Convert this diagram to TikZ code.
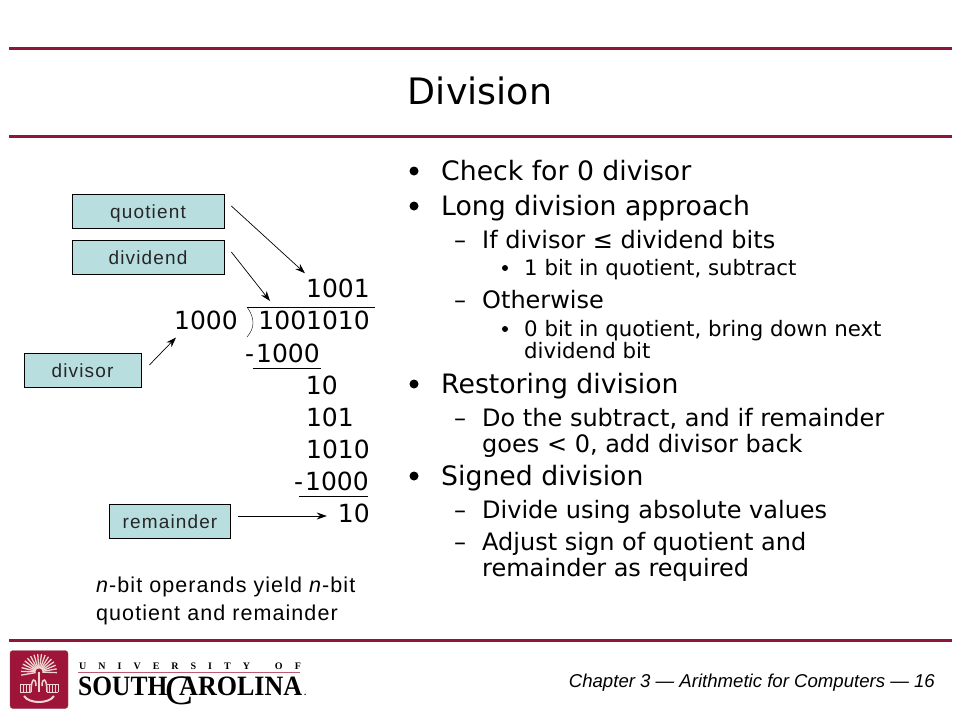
\documentclass[tikz,border=0pt]{standalone}
\usepackage{fontspec}
\setmainfont{DejaVu Sans}
\newfontfamily\arialfont{Liberation Sans}
\newfontfamily\boxfont[LetterSpace=6]{Liberation Sans}
\newfontfamily\notefont[LetterSpace=5]{Liberation Sans}
\newfontfamily\serifont{Liberation Serif}
\usetikzlibrary{arrows.meta,positioning,calc}

\definecolor{garnet}{HTML}{8F1539}
\definecolor{crestred}{HTML}{9E1539}
\definecolor{crestpale}{HTML}{F0D5D0}
\definecolor{boxfill}{HTML}{B9DEE0}

\tikzset{
  labelbox/.style={draw, fill=boxfill, line width=0.7pt, inner sep=0pt, text height=16pt, text depth=1pt, font=\boxfont\fontsize{19}{19}\selectfont, text=black!85},
  bitrow/.style={anchor=base east, inner sep=0pt, font=\fontsize{25}{25}\selectfont},
  itemone/.style={anchor=base west, inner sep=0pt, font=\fontsize{26.7}{26.7}\selectfont},
  itemtwo/.style={anchor=base west, inner sep=0pt, font=\fontsize{24}{24}\selectfont},
  itemthree/.style={anchor=base west, inner sep=0pt, font=\fontsize{21.3}{21.3}\selectfont},
  noteline/.style={anchor=base west, inner sep=0pt, font=\notefont\fontsize{21.5}{21.5}\selectfont},
  slideline/.style={color=garnet, line width=3pt},
  pointer/.style={-{Stealth[length=10pt,width=7pt]}, line width=0.7pt}
}

\begin{document}
\begin{tikzpicture}[x=1pt,y=-1pt]
  \useasboundingbox (0,0) rectangle (960,720);

  \foreach \i in {48,136,640}{
    \draw[slideline] (9,\i) -- (952,\i);
  }
  \node[inner sep=0pt, anchor=base, font=\fontsize{36.4}{36.4}\selectfont] (title) at (480,104) {Division};

  % boxes
  \node[labelbox, minimum width=152pt, minimum height=34pt] (quotient) at (148,211) {quotient};
  \node[labelbox, minimum width=152pt, minimum height=34pt] (dividend) at (148,257) {dividend};
  \node[labelbox, minimum width=117pt, minimum height=34pt] (divisor) at (82.5,370) {divisor};
  \node[labelbox, minimum width=121pt, minimum height=34pt] (remainder) at (170,521) {remainder};

  % long division
  \foreach \n/\y/\x/\t in {quot/297/370/1001, dvd/329/370/1001010, dvr/329/238/1000, suba/362/320/-\kern2pt 1000, reca/394/338/10, recb/426/354/101, recc/458/370/1010, subb/490/369/-\kern2pt 1000, rem/522/370/10}{
    \node[bitrow] (\n) at (\x,\y) {\t};
  }
  \draw (247,307) -- (375,307);
  \draw (247,307) .. controls (255,318) and (255,328) .. (247,337);
  \draw (253,368) -- (321,368);
  \draw (299,496) -- (368,496);

  % arrows
  \coordinate (qa) at ($ (quotient.east)+(7,-5) $);
  \coordinate (qb) at ($ (quot.north west)+(-1,-5) $);
  \coordinate (da) at ($ (dividend.east)+(7,-5) $);
  \coordinate (db) at (270,301);
  \coordinate (va) at ($ (divisor.east)+(8,-5) $);
  \coordinate (vb) at ($ (dvr.south west)+(2,8) $);
  \coordinate (ra) at ($ (remainder.east)+(7,-5) $);
  \coordinate (rb) at ($ (rem.base west)+(-11,-6) $);
  \foreach \i/\j in {qa/qb,da/db,va/vb,ra/rb}{
    \draw[pointer] (\i) -- (\j);
  }

  \node[noteline] (note1) at (96,592) {\textit{n}-bit operands yield \textit{n}-bit};
  \node[noteline] (note2) at (96,620) {quotient and remainder};

  % bullets
  \foreach \n/\y/\t in {a/180/Check for 0 divisor, b/215/Long division approach, c/393/Restoring division, d/485/Signed division}{
    \node[itemone] (one\n) at (441,\y) {\t};
    \fill (414,\y-9) circle (4.5pt);
  }
  \foreach \n/\y/\t in {a/248/If divisor ≤ dividend bits, b/308/Otherwise, c/426/{Do the subtract, and if remainder}, d/452/{goes < 0, add divisor back}, e/518/Divide using absolute values, f/550/Adjust sign of quotient and, g/576/remainder as required}{
    \node[itemtwo] (two\n) at (482,\y) {\t};
  }
  \foreach \y in {248,308,426,518,550}{
    \node[itemtwo, anchor=base] (dash\y) at (460,\y) {–};
  }
  \foreach \n/\y/\t in {a/275/{1 bit in quotient, subtract}, b/336/{0 bit in quotient, bring down next}, c/358/dividend bit}{
    \node[itemthree] (three\n) at (524,\y) {\t};
  }
  \foreach \y in {268,329}{
    \fill (505,\y) circle (3pt);
  }

  % footer
  \node[inner sep=0pt, anchor=base east, font=\arialfont\itshape\fontsize{18.6}{18.6}\selectfont] (footer) at (935,687) {Chapter 3 — Arithmetic for Computers — 16};

  % logo
  \node[fill=crestred, draw=crestred!60!gray, rounded corners=3pt, minimum size=58pt, inner sep=0pt] (crest) at (39,679.5) {};
  \foreach \a in {-190,-178,...,10}{
    \draw[crestpale, line width=1.3pt] (39,672) -- ++(\a:18);
  }
  \fill[crestred] (39,672) circle (3.5pt);
  \draw[crestpale, line width=2.5pt] (39,672) -- (39,692);
  \draw[crestpale, line width=1pt] (20,684) -- (31,684) (47,684) -- (58,684) (20,692) -- (31,692) (47,692) -- (58,692);
  \foreach \i in {20,23,26,29,49,52,55,58}{
    \draw[crestpale, line width=1pt] (\i,684) -- (\i,692);
  }
  \draw[crestpale, line width=1.5pt] (31,692) .. controls (31,677) and (36,677) .. (36,686);
  \draw[crestpale, line width=1.5pt] (47,692) .. controls (47,677) and (42,677) .. (42,686);
  \draw[crestpale, line width=2pt] (24,696) .. controls (29,704) and (49,704) .. (54,696);

  \node[inner sep=0pt, anchor=base west, font=\serifont\bfseries\fontsize{10}{10}\selectfont] (uni) at (79,669.5) {U\hspace{12pt}N\hspace{12pt}I\hspace{12pt}V\hspace{12pt}E\hspace{12pt}R\hspace{12pt}S\hspace{12pt}I\hspace{12pt}T\hspace{12pt}Y\hspace{25pt}O\hspace{12pt}F};
  \draw[crestred!70, line width=0.7pt] (78,672) -- (300,672);
  \node[inner sep=0pt, anchor=base west, font=\serifont\bfseries\fontsize{28}{28}\selectfont] (south) at (78,695) {\scalebox{.91}[1]{SOUTH}};
  \node[inner sep=0pt, anchor=base west, font=\serifont\fontsize{42}{42}\selectfont] (bigc) at (165,704) {C};
  \node[inner sep=0pt, anchor=base west, font=\serifont\bfseries\fontsize{28}{28}\selectfont] (carolina) at (179,695) {\scalebox{.93}[1]{AROLINA}};
  \node[inner sep=0pt, anchor=base west, font=\serifont\bfseries\fontsize{9}{9}\selectfont] (dot) at (304,695) {.};
\end{tikzpicture}
\end{document}
